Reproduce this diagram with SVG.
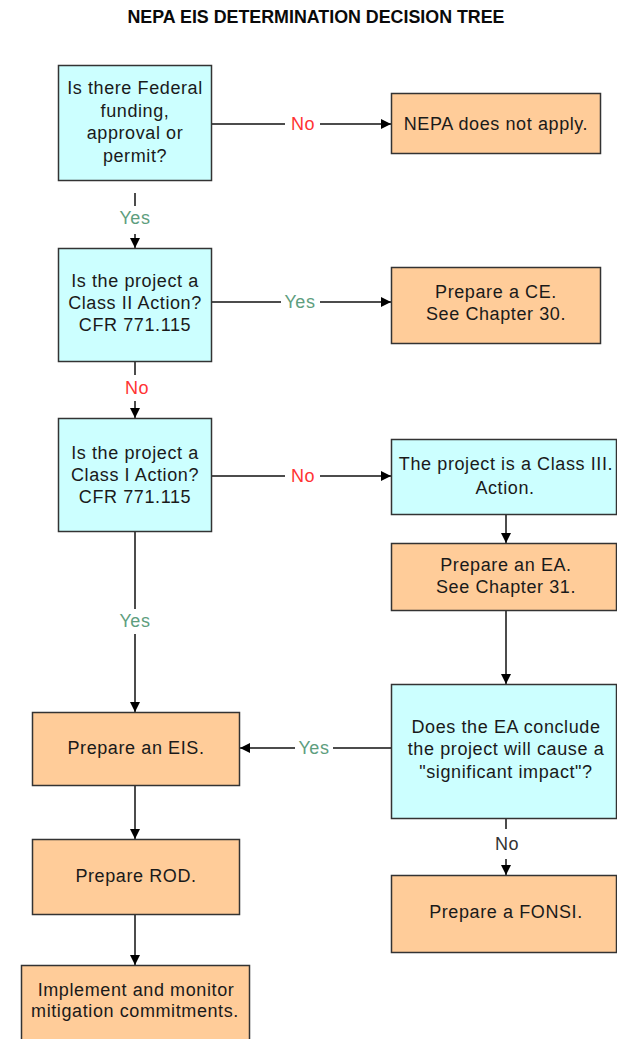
<svg xmlns="http://www.w3.org/2000/svg" width="617" height="1039" viewBox="0 0 617 1039">
<style>
.q{fill:#CCFFFF;stroke:#333;stroke-width:1.5}
.a{fill:#FFCC99;stroke:#333;stroke-width:1.5}
text{font-family:"Liberation Sans",Arial,sans-serif;font-size:18px;letter-spacing:0.6px;fill:#1a1a1a;text-anchor:middle}
.c{stroke:#111;stroke-width:1.5;fill:none}
.y{fill:#5E9E7E}
.n{fill:#FF3333}
.k{fill:#333}
.t{font-size:19px;font-weight:bold;letter-spacing:0;fill:#0a0a0a}
</style>
<defs>
<marker id="ar" viewBox="0 0 10 10" refX="10" refY="5" markerWidth="10" markerHeight="10" markerUnits="userSpaceOnUse" orient="auto">
<path d="M0,0 L10,5 L0,10 z" fill="#000"/>
</marker>
</defs>
<text class="t" x="316" y="23" textLength="377" lengthAdjust="spacingAndGlyphs">NEPA EIS DETERMINATION DECISION TREE</text>
<g id="connectors">
<line class="c" x1="211" y1="124" x2="285" y2="124"/>
<line class="c" x1="320" y1="124" x2="391" y2="124" marker-end="url(#ar)"/>
<text class="n" x="303" y="130">No</text>
<line class="c" x1="135" y1="193" x2="135" y2="206"/>
<text class="y" x="135" y="224">Yes</text>
<line class="c" x1="135" y1="234" x2="135" y2="248" marker-end="url(#ar)"/>
<line class="c" x1="211" y1="302" x2="281" y2="302"/>
<line class="c" x1="320" y1="302" x2="391" y2="302" marker-end="url(#ar)"/>
<text class="y" x="300" y="308">Yes</text>
<line class="c" x1="135" y1="362" x2="135" y2="375"/>
<text class="n" x="137" y="394">No</text>
<line class="c" x1="135" y1="401" x2="135" y2="418" marker-end="url(#ar)"/>
<line class="c" x1="211" y1="476" x2="285" y2="476"/>
<line class="c" x1="320" y1="476" x2="391" y2="476" marker-end="url(#ar)"/>
<text class="n" x="303" y="482">No</text>
<line class="c" x1="506" y1="514" x2="506" y2="543" marker-end="url(#ar)"/>
<line class="c" x1="506" y1="610" x2="506" y2="684" marker-end="url(#ar)"/>
<line class="c" x1="135" y1="532" x2="135" y2="609"/>
<text class="y" x="135" y="627">Yes</text>
<line class="c" x1="135" y1="634" x2="135" y2="712" marker-end="url(#ar)"/>
<line class="c" x1="391" y1="748" x2="333" y2="748"/>
<text class="y" x="314" y="754">Yes</text>
<line class="c" x1="295" y1="748" x2="240" y2="748" marker-end="url(#ar)"/>
<line class="c" x1="506" y1="818" x2="506" y2="829"/>
<text class="k" x="507" y="850">No</text>
<line class="c" x1="506" y1="859" x2="506" y2="875" marker-end="url(#ar)"/>
<line class="c" x1="135" y1="785" x2="135" y2="839" marker-end="url(#ar)"/>
<line class="c" x1="135" y1="914" x2="135" y2="965" marker-end="url(#ar)"/>
</g>
<g id="federal">
<rect class="q" x="58.5" y="65.5" width="153" height="115"/>
<text x="135" y="94">Is there Federal</text>
<text x="135" y="116.5">funding,</text>
<text x="135" y="139">approval or</text>
<text x="135" y="161.5">permit?</text>
</g>
<g id="nepa-na">
<rect class="a" x="391.5" y="93.5" width="209" height="60"/>
<text x="496" y="130">NEPA does not apply.</text>
</g>
<g id="class2">
<rect class="q" x="58.5" y="248.5" width="153" height="113"/>
<text x="135" y="287">Is the project a</text>
<text x="135" y="309">Class II Action?</text>
<text x="135" y="331">CFR 771.115</text>
</g>
<g id="ce">
<rect class="a" x="391.5" y="267.5" width="209" height="76"/>
<text x="496" y="298">Prepare a CE.</text>
<text x="496" y="320">See Chapter 30.</text>
</g>
<g id="class1">
<rect class="q" x="58.5" y="418.5" width="153" height="113"/>
<text x="135" y="459">Is the project a</text>
<text x="135" y="481">Class I Action?</text>
<text x="135" y="503">CFR 771.115</text>
</g>
<g id="class3">
<rect class="q" x="391.5" y="439.5" width="225" height="75"/>
<text x="506" y="470">The project is a Class III.</text>
<text x="505" y="494">Action.</text>
</g>
<g id="ea">
<rect class="a" x="391.5" y="543.5" width="225" height="67"/>
<text x="506" y="571">Prepare an EA.</text>
<text x="506" y="593">See Chapter 31.</text>
</g>
<g id="impact">
<rect class="q" x="391.5" y="684.5" width="225" height="134"/>
<text x="506" y="733">Does the EA conclude</text>
<text x="506" y="755">the project will cause a</text>
<text x="506" y="778">"significant impact"?</text>
</g>
<g id="fonsi">
<rect class="a" x="391.5" y="875.5" width="225" height="77"/>
<text x="506" y="918">Prepare a FONSI.</text>
</g>
<g id="eis">
<rect class="a" x="32.5" y="712.5" width="207" height="73"/>
<text x="136" y="754">Prepare an EIS.</text>
</g>
<g id="rod">
<rect class="a" x="32.5" y="839.5" width="207" height="75"/>
<text x="136" y="882">Prepare ROD.</text>
</g>
<g id="implement">
<rect class="a" x="21.5" y="965.5" width="228" height="80"/>
<text x="136" y="996">Implement and monitor</text>
<text x="135" y="1017">mitigation commitments.</text>
</g>
</svg>
